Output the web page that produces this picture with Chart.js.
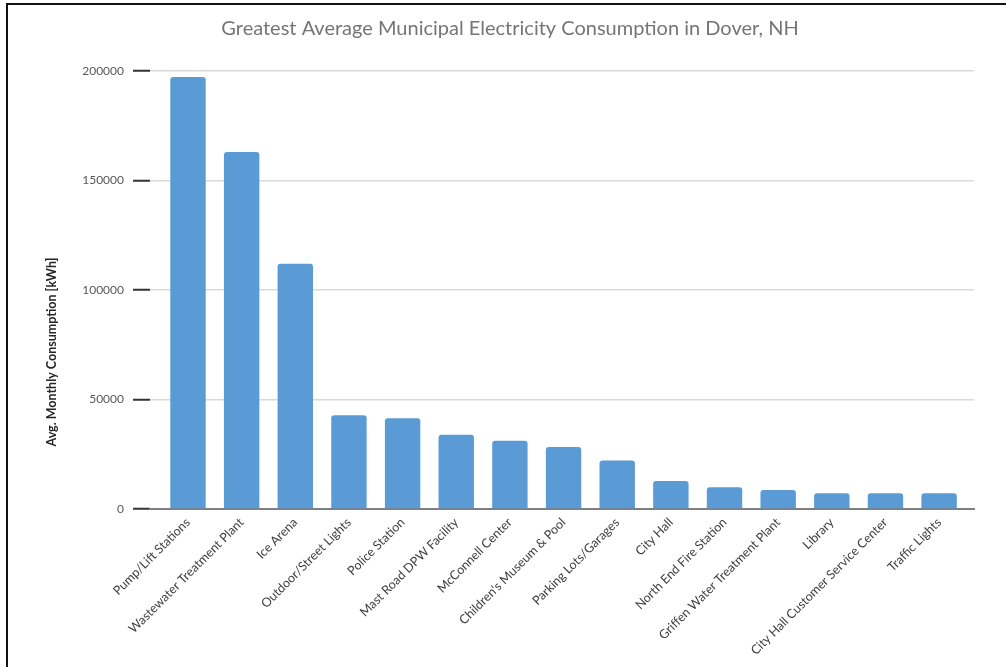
<!DOCTYPE html>
<html>
<head>
<meta charset="utf-8">
<script src="https://cdn.jsdelivr.net/npm/chart.js@4"></script>
<style>
html,body{margin:0;padding:0;background:#fff;}
#wrap{position:relative;width:1006px;height:667px;}
#frame{position:absolute;left:6px;top:3px;right:0;bottom:0;border-left:2px solid #111;border-top:2px solid #111;pointer-events:none;}
canvas{position:absolute;left:0;top:0;}
</style>
</head>
<body>
<div id="wrap"><canvas id="c" width="1006" height="667"></canvas><div id="frame"></div></div>
<script>
const categories = ["Pump/Lift Stations","Wastewater Treatment Plant","Ice Arena","Outdoor/Street Lights","Police Station","Mast Road DPW Facility","McConnell Center","Children's Museum & Pool","Parking Lots/Garages","City Hall","North End Fire Station","Griffen Water Treatment Plant","Library","City Hall Customer Service Center","Traffic Lights"];
const consumption = [197300, 163000, 112000, 42800, 41400, 33900, 31200, 28300, 22200, 12800, 9900, 8700, 7200, 7200, 7200];
const yTicks = [0, 50000, 100000, 150000, 200000];
const chartTitle = "Greatest Average Municipal Electricity Consumption in Dover, NH";
const yTitle = "Avg. Monthly Consumption [kWh]";

const FONT = "Lato, 'Open Sans', sans-serif";

const yTitlePlugin = {
  id: 'yTitlePlugin',
  afterDraw(chart) {
    const ctx = chart.ctx;
    ctx.save();
    ctx.translate(52, 352);
    ctx.rotate(-Math.PI / 2);
    ctx.font = "bold 12.5px " + FONT;
    ctx.fillStyle = '#262626';
    ctx.textAlign = 'center';
    ctx.textBaseline = 'middle';
    ctx.fillText(yTitle, 0, 0);
    ctx.restore();
  }
};

new Chart(document.getElementById('c'), {
  type: 'bar',
  data: {
    datasets: [{
      data: consumption.map((v, i) => ({x: i, y: v})),
      backgroundColor: '#5B9BD5',
      borderRadius: {topLeft: 3, topRight: 3, bottomLeft: 0, bottomRight: 0},
      borderSkipped: 'bottom',
      categoryPercentage: 1,
      barPercentage: 0.66
    }]
  },
  plugins: [yTitlePlugin],
  options: {
    responsive: false,
    animation: false,
    devicePixelRatio: 1,
    layout: {padding: {left: 46, right: 32, top: 0, bottom: 0}},
    plugins: {
      legend: {display: false},
      tooltip: {enabled: false},
      title: {
        display: true,
        text: chartTitle,
        color: '#757575',
        font: {family: FONT, size: 20, weight: 'normal'},
        padding: {top: 17, bottom: 30},
        align: 'center'
      }
    },
    scales: {
      x: {
        type: 'linear',
        offset: false,
        min: -0.708,
        max: 14.65,
        afterBuildTicks: s => { s.ticks = categories.map((c, i) => ({value: i})); },
        grid: {display: false, drawTicks: false, offset: false},
        border: {display: true, color: '#7f7f7f', width: 2},
        ticks: {
          color: '#404040',
          font: {family: FONT, size: 12.5},
          maxRotation: 45, minRotation: 45,
          autoSkip: false,
          padding: 6,
          callback: v => categories[v]
        },
        afterFit: s => { s.height = 158; }
      },
      y: {
        min: 0, max: 200000,
        afterBuildTicks: s => { s.ticks = yTicks.map(v => ({value: v})); },
        grid: {
          color: '#d9d9d9',
          lineWidth: 1.5,
          drawTicks: true,
          tickLength: 17,
          tickColor: '#333333',
          tickWidth: 2
        },
        border: {display: false},
        ticks: {
          color: '#595959',
          font: {family: FONT, size: 12},
          padding: 9,
          callback: v => String(v)
        },
        title: {display: false},
        afterFit: s => { s.width = 104; }
      }
    }
  }
});
</script>
</body>
</html>
